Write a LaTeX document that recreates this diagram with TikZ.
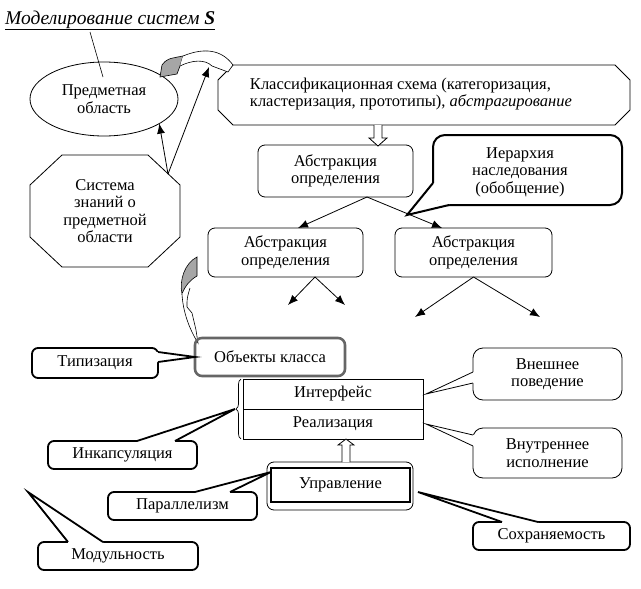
\documentclass[tikz,border=0pt]{standalone}
\usepackage{fontspec}
\setmainfont{Liberation Serif}
\usetikzlibrary{arrows.meta,calc,decorations.pathreplacing,shapes.geometric}
\newcommand{\ptr}[5]{%
  \fill[white] #2 -- #3 -- #4 -- ($#4+#5$) -- ($#2+#5$) -- cycle;
  \draw[#1] #2 -- #3 -- #4;}
\begin{document}
\begin{tikzpicture}[x=1pt,y=-1pt,
  txt/.style={font=\fontsize{16.5}{17.5}\selectfont, align=center, inner sep=0pt, outer sep=0pt},
  thinl/.style={line width=0.8pt, line join=miter},
  thickl/.style={line width=1.8pt, line join=miter},
  rbox/.style={txt, draw, rounded corners=7, line width=0.8pt},
  thickc/.style={txt, draw, rounded corners=6, line width=1.8pt},
  thinc/.style={txt, draw, rounded corners=10, line width=0.8pt},
  arr/.style={-{Latex[length=10pt,width=8pt]}, line width=0.8pt},
  hollow/.style={draw, fill=white, line width=0.8pt, line join=miter}]
\useasboundingbox (0,0) rectangle (641,589);

% title
\node[inner sep=0pt, font=\fontsize{19.5}{21}\selectfont\itshape, anchor=base west] (title) at (5,24) {Моделирование систем \textbf{S}};
\draw[line width=0.8pt] ([yshift=-5pt]title.base west) -- ([yshift=-5pt]title.base east);

% ellipse
\node[txt, draw, ellipse, minimum width=148, minimum height=74, line width=0.8pt] (ell) at (104,99) {Предметная\\область};
\coordinate (tl) at (90,32);
\draw[line width=0.6pt] (tl) -- (103,77);

% octagon
\node[txt, minimum width=150, minimum height=112] (oct) at (105,211) {Система\\знаний о\\предметной\\области};
\draw[thinl] ($(oct.north west)+(32,0)$) -- ($(oct.north east)+(-32,0)$) -- ($(oct.north east)+(0,30)$) -- ($(oct.south east)+(0,-30)$) -- ($(oct.south east)+(-32,0)$) -- ($(oct.south west)+(32,0)$) -- ($(oct.south west)+(0,-30)$) -- ($(oct.north west)+(0,30)$) -- cycle;

% classification
\node[txt, align=left] (cls) at (411,94) {Классификационная схема (категоризация,\\кластеризация, прототипы), \textit{абстрагирование}};
\coordinate (clsnw) at (218,65);
\coordinate (clsse) at (630,125);
\draw[thinl] ($(clsnw)+(15,0)$) -- ($(clsse|-clsnw)+(-15,0)$) -- ($(clsse|-clsnw)+(0,15)$) -- ($(clsse)+(0,-15)$) -- ($(clsse)+(-15,0)$) -- ($(clsnw|-clsse)+(15,0)$) -- ($(clsnw|-clsse)+(0,-15)$) -- ($(clsnw)+(0,15)$) -- cycle;

% arrows from octagon
\coordinate (octout) at (168,174);
\coordinate (clsin) at (209,67);
\draw[arr] (octout) -- (ell.-24);
\draw[arr] (octout) -- (clsin);

% top ribbon
\filldraw[fill=black!35, line width=0.6pt] (160,77) -- (162,65) .. controls (167,59) .. (183,56) -- (180,66) .. controls (178,70) .. (177,74) -- cycle;
\draw[fill=white, line width=0.6pt] (183,56) .. controls (205,47) and (222,50) .. (233,65) -- (228,72) -- (212,66) .. controls (205,59) and (192,60) .. (180,66);

% abstraction boxes
\node[rbox, minimum width=155, minimum height=52] (abs0) at (335.5,171) {Абстракция\\определения};
\node[rbox, minimum width=155, minimum height=49] (abs1) at (285.5,252.5) {Абстракция\\определения};
\node[rbox, minimum width=157, minimum height=49] (abs2) at (473.5,252.5) {Абстракция\\определения};

% hollow arrow classification -> abstraction
\draw[hollow] (374,125) -- (374,138) -- (369,138) -- (378,146) -- (387,138) -- (382,138) -- (382,125);

\coordinate (a0out) at ($(abs0.south)+(31.5,0)$);
\draw[arr] (a0out) -- ($(abs1.north)+(12.5,0)$);
\draw[arr] (a0out) -- ($(abs2.north)+(-31.5,0)$);

\coordinate (a1out) at ($(abs1.south)+(29.5,0)$);
\coordinate (a1l) at (288,305);
\coordinate (a1r) at (345,305);
\draw[arr] (a1out) -- (a1l);
\draw[arr] (a1out) -- (a1r);
\coordinate (a2l) at (415,317);
\coordinate (a2r) at (540,317);
\draw[arr] (abs2.south) -- (a2l);
\draw[arr] (abs2.south) -- (a2r);

% hierarchy callout
\node[draw, rounded corners=12, line width=2pt, minimum width=189, minimum height=70, inner sep=0pt] (hier) at (527.5,170) {};
\node[txt] (hiertxt) at (520,172) {Иерархия\\наследования\\(обобщение)};
\coordinate (hiertip) at (407,215);
\fill[white] (433,183) -- (hiertip) -- (449,205) -- (449,201) -- (437,201) -- (437,183) -- cycle;
\draw[line width=2pt, line join=miter] (433,183) -- (hiertip) -- (449,205);

% lower ribbon
\filldraw[fill=black!35, line width=0.6pt] (197,257) -- (197,276) .. controls (190,280) and (185,286) .. (182,294) .. controls (179,280) and (185,263) .. (197,257) -- cycle;
\draw[fill=white, line width=0.6pt] (182,294) .. controls (183,313) and (190,330) .. (198,343) -- (196,330) -- (192,313) -- (187,307) .. controls (187,298) .. (190,288);

% objects
\node[txt, draw=black!60, rounded corners=7, line width=2.6pt, minimum width=150, minimum height=38] (obj) at (270,357) {Объекты класса};

% class table
\node[txt, draw, line width=0.8pt, minimum width=180, minimum height=30] (ifc) at (333,394) {Интерфейс};
\node[txt, draw, line width=0.8pt, minimum width=180, minimum height=30] (rea) at (333,424) {Реализация};
\draw[line width=0.7pt, decorate, decoration={brace, amplitude=5pt}] ($(rea.south west)+(-2,0)$) -- ($(ifc.north west)+(-2,0)$);
\coordinate (brtip) at (235,409);

% control
\node[draw, rounded corners=7, line width=0.8pt, minimum width=146, minimum height=48, inner sep=0pt] (uprout) at (340,486) {};
\node[txt, draw, line width=2pt, minimum width=139, minimum height=34] (upr) at (340.5,485) {Управление};
\draw[hollow] (342,462) -- (342,445) -- (338,445) -- (346,439) -- (354,445) -- (350,445) -- (350,462);

% left thick callouts
\node[thickc, minimum width=126, minimum height=30] (typ) at (95,363) {Типизация};
\ptr{thickl}{(158,352)}{(obj.west)}{(158,362)}{(-4,0)}
\node[thickc, minimum width=149, minimum height=28] (inc) at (122.5,455) {Инкапсуляция};
\ptr{thickl}{(137,441)}{(brtip)}{(175,441)}{(0,4)}
\node[thickc, minimum width=149, minimum height=28] (par) at (182.5,506) {Параллелизм};
\coordinate (partip) at (271,472);
\ptr{thickl}{(195,492)}{(partip)}{(230,492)}{(0,4)}
\node[thickc, minimum width=160, minimum height=28] (mod) at (118,556) {Модульность};
\coordinate (modtip) at (28,492);
\ptr{thickl}{(68,542)}{(modtip)}{(103,542)}{(0,4)}
\node[thickc, minimum width=157, minimum height=28] (sox) at (551.5,536) {Сохраняемость};
\coordinate (soxtip) at (418,492);
\ptr{thickl}{(502,522)}{(soxtip)}{(538,522)}{(0,4)}

% right thin callouts
\node[thinc, minimum width=149, minimum height=52] (vne) at (547.5,374) {Внешнее\\поведение};
\coordinate (vnetip) at (426,394);
\ptr{thinl}{(473,372)}{(vnetip)}{(473,383)}{(3,0)}
\node[thinc, minimum width=149, minimum height=50] (vnu) at (547.5,453) {Внутреннее\\исполнение};
\coordinate (vnutip) at (426,424);
\ptr{thinl}{(473,435)}{(vnutip)}{(473,446)}{(3,0)}
\end{tikzpicture}
\end{document}
